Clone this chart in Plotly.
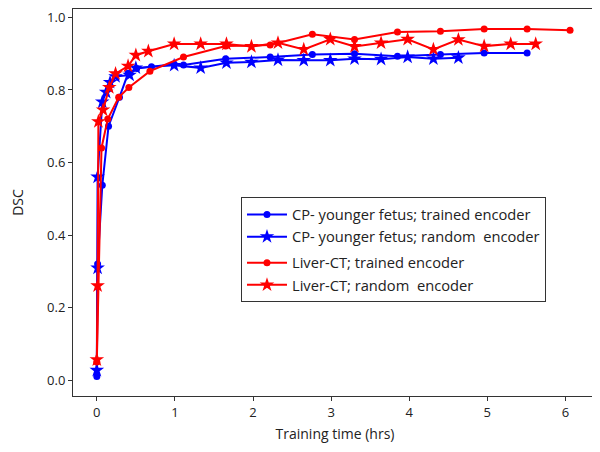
import plotly.graph_objects as go

# CP - younger fetus, trained encoder
cp_trained_t = [0.0, 0.01, 0.07, 0.15, 0.29, 0.40, 0.51, 0.70, 0.99, 1.11, 1.65, 2.22, 2.76, 3.30, 3.85, 4.40, 4.96, 5.51]
cp_trained_dsc = [0.01, 0.32, 0.537, 0.70, 0.78, 0.846, 0.859, 0.864, 0.872, 0.869, 0.886, 0.891, 0.898, 0.900, 0.893, 0.898, 0.902, 0.902]

# CP - younger fetus, random encoder
cp_random_t = [0.0, 0.01, 0.01, 0.07, 0.12, 0.17, 0.24, 0.42, 0.50, 0.99, 1.33, 1.66, 1.98, 2.32, 2.65, 2.99, 3.30, 3.64, 3.98, 4.31, 4.63]
cp_random_dsc = [0.027, 0.309, 0.56, 0.767, 0.794, 0.821, 0.837, 0.841, 0.861, 0.868, 0.861, 0.875, 0.877, 0.883, 0.882, 0.882, 0.886, 0.885, 0.891, 0.886, 0.889]

# Liver-CT, trained encoder
liver_trained_t = [0.0, 0.06, 0.14, 0.28, 0.41, 0.68, 1.11, 1.65, 2.22, 2.76, 3.30, 3.85, 4.40, 4.96, 5.51, 6.06]
liver_trained_dsc = [0.05, 0.64, 0.72, 0.78, 0.807, 0.852, 0.891, 0.921, 0.924, 0.954, 0.939, 0.960, 0.962, 0.968, 0.968, 0.965]

# Liver-CT, random encoder
liver_random_t = [0.0, 0.01, 0.02, 0.08, 0.16, 0.24, 0.40, 0.50, 0.66, 0.99, 1.33, 1.66, 1.98, 2.32, 2.65, 2.99, 3.30, 3.64, 3.98, 4.31, 4.63, 4.96, 5.30, 5.62]
liver_random_dsc = [0.056, 0.26, 0.713, 0.745, 0.807, 0.845, 0.866, 0.896, 0.907, 0.927, 0.927, 0.927, 0.920, 0.930, 0.912, 0.940, 0.920, 0.930, 0.940, 0.912, 0.939, 0.921, 0.927, 0.927]

BLUE = '#0000ff'
RED = '#ff0000'

fig = go.Figure()

series = [
    (cp_trained_t, cp_trained_dsc, 'CP- younger fetus; trained encoder', BLUE, 'circle', 7, 'cp'),
    (cp_random_t, cp_random_dsc, 'CP- younger fetus; random  encoder', BLUE, 'star', 11, 'cp'),
    (liver_trained_t, liver_trained_dsc, 'Liver-CT; trained encoder', RED, 'circle', 7, 'liver'),
    (liver_random_t, liver_random_dsc, 'Liver-CT; random  encoder', RED, 'star', 11, 'liver'),
]

for t, dsc, name, color, symbol, size, group in series:
    fig.add_trace(go.Scatter(
        x=t, y=dsc,
        mode='lines+markers',
        name=name,
        legendgroup=group,
        line=dict(color=color, width=2),
        marker=dict(color=color, symbol=symbol, size=size, line=dict(width=0)),
    ))

axis_common = dict(
    showgrid=False,
    zeroline=False,
    showline=True,
    linecolor='#333333',
    linewidth=1,
    mirror=True,
    ticks='outside',
    ticklen=4,
    tickcolor='#333333',
    tickfont=dict(size=13, color='#222222'),
    ticklabeloverflow='allow',
    automargin=False,
)

# page body adds an 8px offset, margins compensate for it
fig.update_layout(
    width=600,
    height=452,
    plot_bgcolor='white',
    paper_bgcolor='white',
    font=dict(family='Open Sans, Noto Sans, sans-serif', color='#222222'),
    margin=dict(l=65, r=11, t=1, b=64),
    xaxis=dict(
        range=[-0.305, 6.405],
        tickvals=[0, 1, 2, 3, 4, 5, 6],
        title=dict(text='Training time (hrs)', font=dict(size=14), standoff=9),
        **axis_common
    ),
    yaxis=dict(
        range=[-0.0441, 1.0234],
        tickvals=[0.0, 0.2, 0.4, 0.6, 0.8, 1.0],
        tickformat='.1f',
        title=dict(text='DSC', font=dict(size=14), standoff=31),
        **axis_common
    ),
    showlegend=True,
    legend=dict(
        x=0.3206, y=0.513,
        xanchor='left', yanchor='top',
        bgcolor='white',
        bordercolor='#333333',
        borderwidth=1,
        font=dict(family='Open Sans', size=14.7, color='#222222'),
        traceorder='grouped',
        tracegroupgap=4,
        itemwidth=40,
    ),
)

fig.write_html("out.html")
